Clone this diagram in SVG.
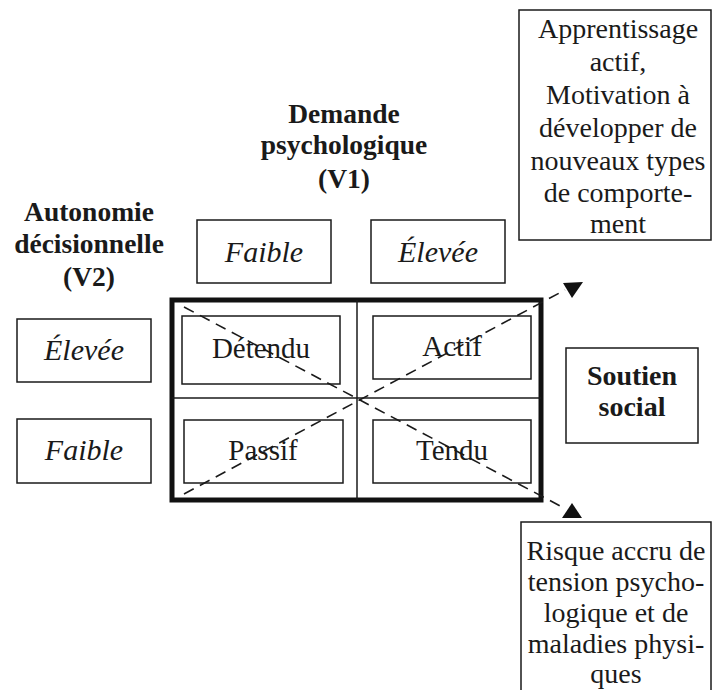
<svg xmlns="http://www.w3.org/2000/svg" xmlns:xlink="http://www.w3.org/1999/xlink" width="713" height="690" viewBox="0 0 713 690">
<style>
.box{fill:#fff;stroke:#1a1a1a;stroke-width:1.5}
.t{font-family:"Liberation Serif","Times New Roman",serif;font-size:28px;fill:#1a1a1a;text-anchor:middle}
.i{font-style:italic;font-size:30px}
.g{font-size:29px}
.b{font-weight:bold;font-size:27.5px}
.dash{fill:none;stroke:#1a1a1a;stroke-width:1.6;stroke-dasharray:11 7}
</style>
<defs>
<polygon id="arrUp" points="0,-8 -10,7 10,7" fill="#111"/>
<polygon id="arrDown" points="-9,-7 11,-8 0,8" fill="#111"/>
</defs>
<rect width="713" height="690" fill="#fff"/>

<g id="title-v1">
<text class="t b" x="344" y="123">Demande</text>
<text class="t b" x="344" y="154">psychologique</text>
<text class="t b" x="344" y="188">(V1)</text>
</g>
<g id="title-v2">
<text class="t b" x="89" y="221">Autonomie</text>
<text class="t b" x="89" y="253">décisionnelle</text>
<text class="t b" x="89" y="286">(V2)</text>
</g>

<g id="top-faible"><rect class="box" x="197" y="220" width="134" height="63"/><text class="t i" x="264" y="262">Faible</text></g>
<g id="top-elevee"><rect class="box" x="371" y="220" width="134" height="63"/><text class="t i" x="438" y="262">Élevée</text></g>
<g id="left-elevee"><rect class="box" x="17" y="319" width="134" height="63"/><text class="t i" x="84" y="360">Élevée</text></g>
<g id="left-faible"><rect class="box" x="17" y="419" width="134" height="64"/><text class="t i" x="84" y="460">Faible</text></g>

<g id="grid">
<rect x="172" y="300" width="369" height="200" fill="#fff" stroke="#111" stroke-width="5"/>
<line x1="357" y1="300" x2="357" y2="500" stroke="#1a1a1a" stroke-width="1.5"/>
<line x1="172" y1="398" x2="541" y2="398" stroke="#1a1a1a" stroke-width="1.5"/>
</g>
<g id="detendu"><rect class="box" x="182" y="316" width="158" height="68"/><text class="t g" x="261" y="358">Détendu</text></g>
<g id="actif"><rect class="box" x="373" y="316" width="158" height="63"/><text class="t g" x="452" y="356">Actif</text></g>
<g id="passif"><rect class="box" x="184" y="420" width="159" height="63"/><text class="t g" x="263" y="460">Passif</text></g>
<g id="tendu"><rect class="box" x="373" y="420" width="158" height="63"/><text class="t g" x="452" y="460">Tendu</text></g>

<g id="soutien"><rect class="box" x="566" y="348" width="132" height="95"/>
<text class="t b" x="632" y="385" style="font-size:28px">Soutien</text>
<text class="t b" x="632" y="416" style="font-size:28px">social</text></g>

<g id="apprentissage"><rect class="box" x="519" y="10" width="192" height="230"/>
<text class="t" x="618" y="38">Apprentissage</text>
<text class="t" x="618" y="71">actif,</text>
<text class="t" x="618" y="104">Motivation à</text>
<text class="t" x="618" y="137">développer de</text>
<text class="t" x="618" y="170">nouveaux types</text>
<text class="t" x="618" y="202">de comporte-</text>
<text class="t" x="618" y="233">ment</text>
</g>

<g id="risque"><rect class="box" x="521" y="522" width="190" height="175"/>
<text class="t" x="616" y="560">Risque accru de</text>
<text class="t" x="616" y="591">tension psycho-</text>
<text class="t" x="616" y="622">logique et de</text>
<text class="t" x="616" y="653">maladies physi-</text>
<text class="t" x="616" y="683">ques</text>
</g>

<g id="connectors">
<line class="dash" x1="184" y1="307" x2="564" y2="508"/>
<line class="dash" x1="184" y1="494" x2="565" y2="290"/>
<use xlink:href="#arrUp" x="572" y="511"/>
<use xlink:href="#arrDown" x="572" y="290"/>
</g>
</svg>
